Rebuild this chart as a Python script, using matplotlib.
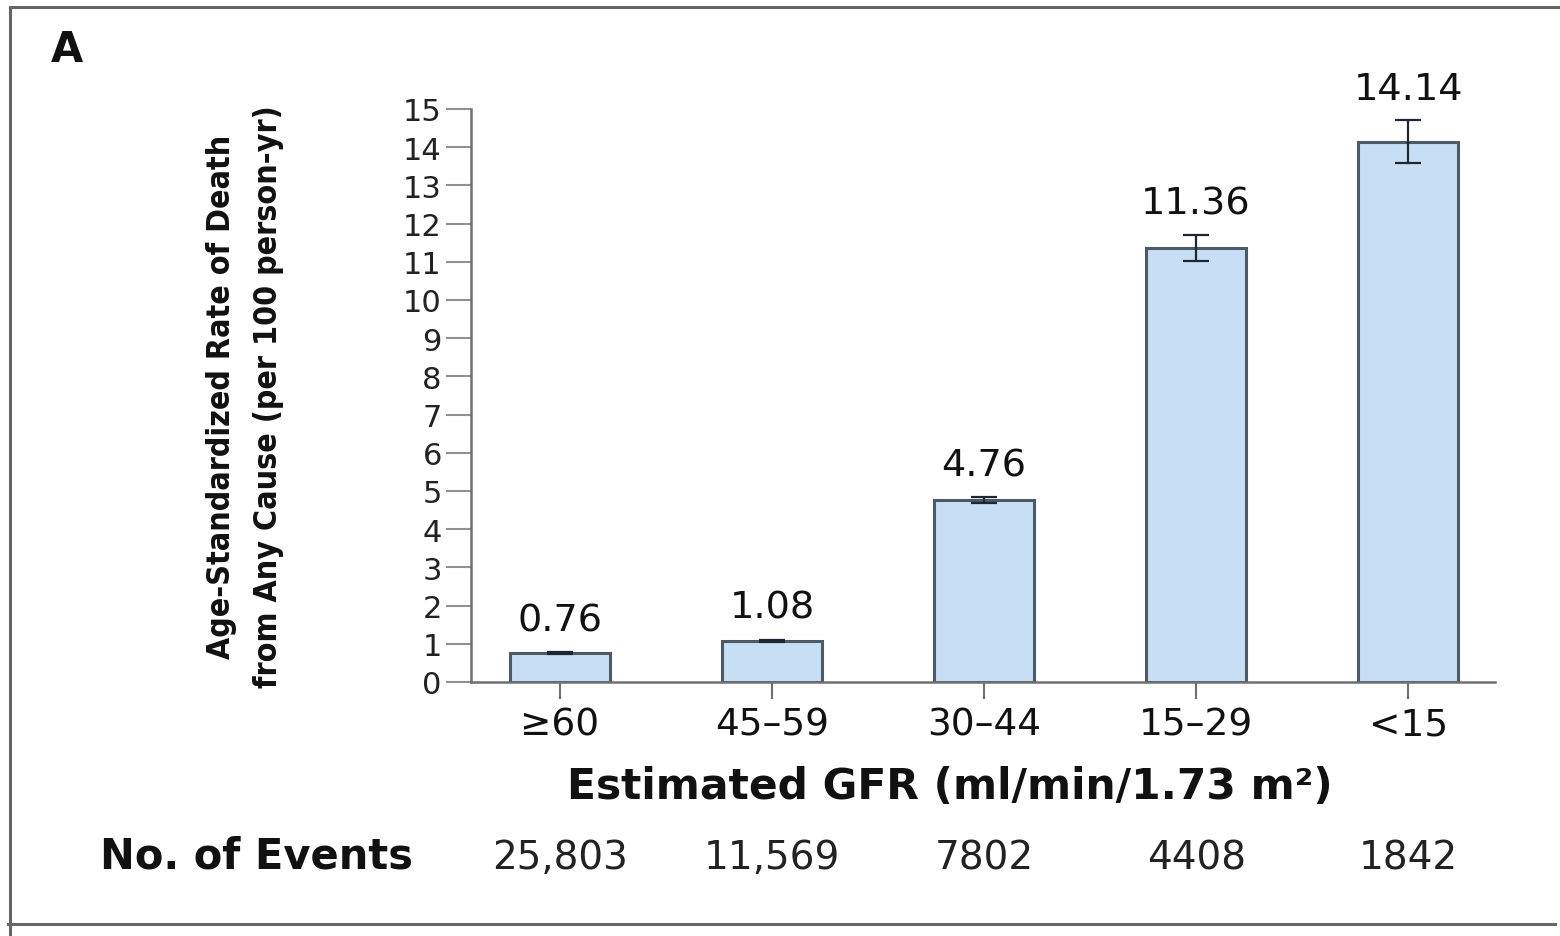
import matplotlib
matplotlib.use("Agg")
import matplotlib.pyplot as plt
import matplotlib.transforms as mtransforms
from matplotlib.lines import Line2D

# ---- data ----
categories = ["\u226560", "45\u201359", "30\u201344", "15\u201329", "<15"]
rates = [0.76, 1.08, 4.76, 11.36, 14.14]
errors = [0.02, 0.03, 0.08, 0.34, 0.56]
rate_labels = ["0.76", "1.08", "4.76", "11.36", "14.14"]
events = ["25,803", "11,569", "7802", "4408", "1842"]
yticks = list(range(0, 16))

W, H = 1560, 937
fig = plt.figure(figsize=(W / 100, H / 100), dpi=100)
fig.patch.set_facecolor("white")

ax = fig.add_axes([471 / W, 1 - 683 / H, (1495 - 471) / W, (683 - 110) / H])
x = list(range(len(categories)))
ax.bar(x, rates, width=0.47, color="#c6dff5", edgecolor="#4d5a66", linewidth=2.2, zorder=2)
ax.errorbar(x, rates, yerr=errors, fmt="none", ecolor="#1c2733", elinewidth=1.6,
            capsize=9.5, capthick=1.6, zorder=3)

for xi, r, e, lab in zip(x, rates, errors, rate_labels):
    ax.annotate(lab, (xi, r + e), xytext=(0, 23), textcoords="offset points",
                ha="center", va="center", fontsize=27.5, color="#111111",
                family="DejaVu Sans")

ax.set_xlim(-0.42, 4.41)
ax.set_ylim(0, 15)
ax.set_yticks(yticks)
ax.set_yticklabels([str(t) for t in yticks], fontsize=22, color="#222222")
ax.set_xticks(x)
ax.set_xticklabels(categories, fontsize=27, color="#111111")
for s in ["top", "right"]:
    ax.spines[s].set_visible(False)
for s in ["left", "bottom"]:
    ax.spines[s].set_color("#707070")
    ax.spines[s].set_linewidth(1.8)
ax.tick_params(axis="y", direction="out", length=18, width=1.5, color="#909090", pad=3)
ax.tick_params(axis="x", direction="out", length=12, width=1.5, color="#707070", pad=6)

# y label (two lines, condensed)
fig.text(245 / W, 1 - 397 / H,
         "Age-Standardized Rate of Death\nfrom Any Cause (per 100 person-yr)",
         rotation=90, ha="center", va="center", fontsize=23, linespacing=1.65,
         fontweight="bold", family=["DejaVu Sans"], fontstretch="condensed",
         color="#111111")

# x label
fig.text(950 / W, 1 - 787 / H, "Estimated GFR (ml/min/1.73 m\u00b2)",
         ha="center", va="center", fontsize=30.5, fontweight="bold", color="#111111")

# No. of events row
fig.text(100 / W, 1 - 857 / H, "No. of Events", ha="left", va="center",
         fontsize=30, fontweight="bold", color="#111111")
trans = mtransforms.blended_transform_factory(ax.transData, fig.transFigure)
for xi, ev in zip(x, events):
    ax.text(xi, 1 - 858 / H, ev, transform=trans, ha="center", va="center",
            fontsize=28, color="#222222", clip_on=False)

# panel letter
fig.text(67 / W, 1 - 50 / H, "A", ha="center", va="center", fontsize=30,
         fontweight="bold", color="#111111")

# frame lines
frame_kw = dict(transform=fig.transFigure, color="#666666", linewidth=2.2)
fig.add_artist(Line2D([10 / W, 1.0], [1 - 8 / H, 1 - 8 / H], **frame_kw))
fig.add_artist(Line2D([10 / W, 10 / W], [0.0, 1 - 8 / H], **frame_kw))
fig.add_artist(Line2D([8 / W, 1555 / W], [1 - 925 / H, 1 - 925 / H], **frame_kw))

fig.savefig("out.png", dpi=100, facecolor="white")
